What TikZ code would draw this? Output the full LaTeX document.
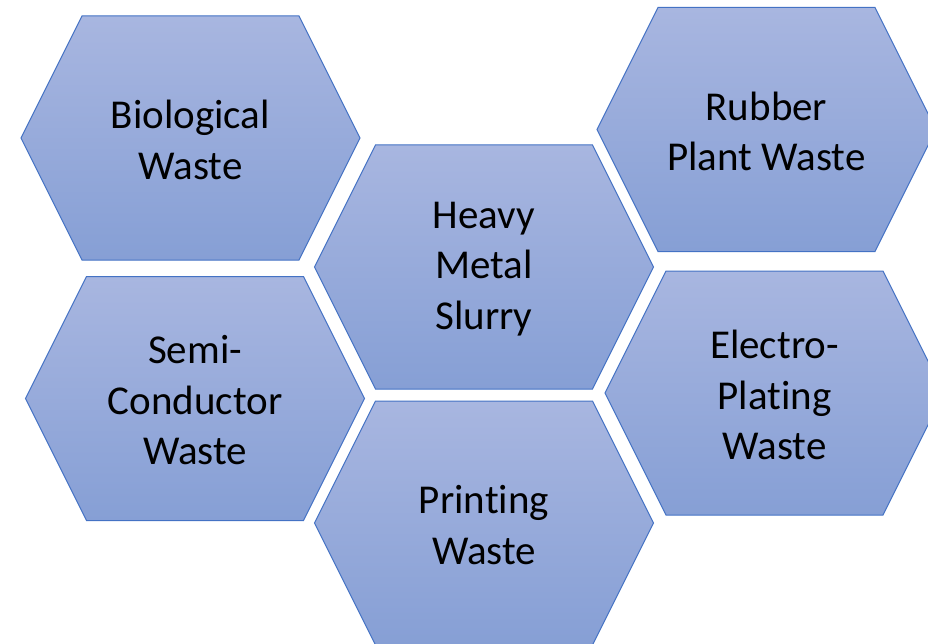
\documentclass[tikz,border=0pt]{standalone}
\usepackage{fontspec}
\setmainfont[Ligatures={NoCommon}]{Carlito}
\usetikzlibrary{calc}

\definecolor{celltop}{RGB}{168,182,224}
\definecolor{cellbottom}{RGB}{134,159,213}
\definecolor{celledge}{RGB}{68,114,196}

\tikzset{
  cell/.style={draw=celledge,line width=1pt,line join=miter,
    top color=celltop,bottom color=cellbottom,shading angle=0},
  celltext/.style={align=center,text=black,inner sep=0pt,
    font=\fontsize{41}{50.5}\selectfont}
}

% one hexagon: name, centre, text
\newcommand{\hexcell}[3]{%
  \coordinate (#1) at #2;
  \path[cell] ($(#1)+(-169.5,0)$) -- ++(61,-122) -- ++(217,0) -- ++(61,122)
    -- ++(-61,122) -- ++(-217,0) -- cycle;
  \node[celltext] (#1-text) at ($(#1)+(0,2)$) {#3};
}

\begin{document}
\begin{tikzpicture}[x=1pt,y=-1pt]

\useasboundingbox (0,0) rectangle (928,644);
\clip (0,0) rectangle (928,644);

\hexcell{bio}{(190.5,138)}{Biological\\Waste}
\hexcell{rubber}{(766.5,129.5)}{Rubber\\Plant Waste}
\hexcell{metal}{(484,267)}{Heavy\\Metal\\Slurry}
\hexcell{semi}{(195,398.5)}{Semi-\\Conductor\\Waste}
\hexcell{plating}{(774.5,393)}{Electro-\\Plating\\Waste}
\hexcell{print}{(484,523)}{Printing\\Waste}

\end{tikzpicture}
\end{document}
